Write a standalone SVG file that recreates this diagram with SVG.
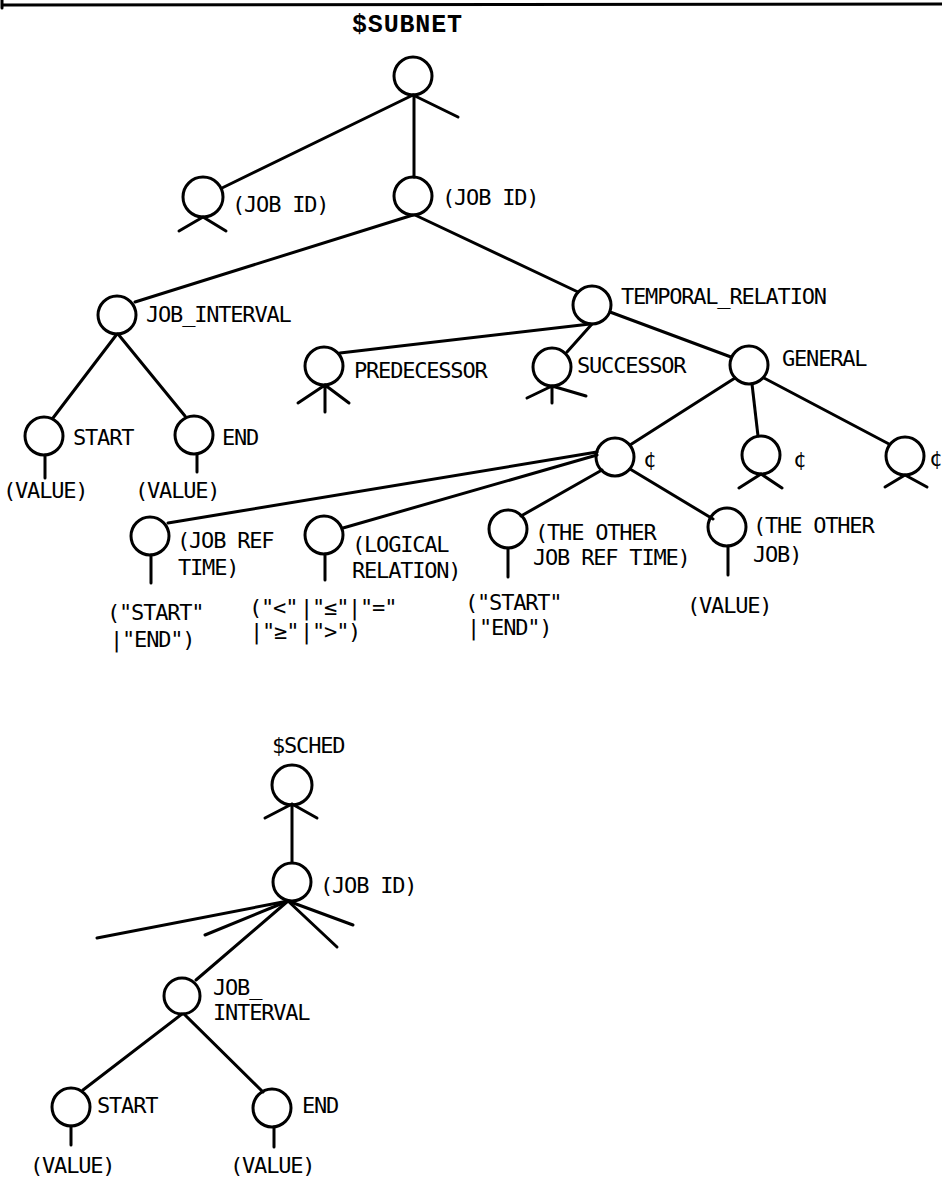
<svg xmlns="http://www.w3.org/2000/svg" width="942" height="1179" viewBox="0 0 942 1179">
<style>
.n{fill:none;stroke:#000;stroke-width:3}
.e line,.s{stroke:#000;stroke-width:3;stroke-linecap:round;fill:none}
text{font-family:"DejaVu Sans Mono","Liberation Mono",monospace;font-size:22px;letter-spacing:-1.2px;fill:#000}
.t{font-family:"Liberation Mono","DejaVu Sans Mono",monospace;font-weight:bold;font-size:25px;letter-spacing:0}
</style>
<rect width="942" height="1179" fill="#fff"/>
<path class="s" d="M2,0 L2,8 M2,5 L942,4"/>
<g class="e" id="connectors">
<line x1="413" y1="95" x2="222" y2="188"/>
<line x1="414" y1="95" x2="414" y2="177"/>
<line x1="413" y1="215" x2="135" y2="302"/>
<line x1="415" y1="215" x2="578" y2="292"/>
<line x1="117" y1="334" x2="53" y2="418"/>
<line x1="118" y1="334" x2="185" y2="416"/>
<line x1="340" y1="353" x2="590" y2="324"/>
<line x1="567" y1="352" x2="592" y2="324"/>
<line x1="610" y1="312" x2="731" y2="357"/>
<line x1="735" y1="378" x2="630" y2="445"/>
<line x1="752" y1="384" x2="758" y2="436"/>
<line x1="764" y1="378" x2="889" y2="444"/>
<line x1="597" y1="452" x2="168" y2="523"/>
<line x1="597" y1="455" x2="343" y2="528"/>
<line x1="602" y1="470" x2="521" y2="516"/>
<line x1="630" y1="469" x2="713" y2="519"/>
<line x1="292" y1="805" x2="292" y2="862"/>
<line x1="288" y1="901" x2="196" y2="980"/>
<line x1="288" y1="901" x2="97" y2="938"/>
<line x1="288" y1="901" x2="205" y2="935"/>
<line x1="288" y1="901" x2="353" y2="925"/>
<line x1="288" y1="901" x2="337" y2="947"/>
<line x1="182" y1="1014" x2="83" y2="1090"/>
<line x1="184" y1="1014" x2="263" y2="1092"/>
</g>
<g id="subnet">
<text class="t" x="352" y="32" textLength="110">$SUBNET</text>
<circle class="n" cx="413" cy="76" r="19"/>
<path class="s" d="M413,95 L458,117"/>
</g>
<g id="jobid1">
<circle class="n" cx="203" cy="197" r="20"/>
<path class="s" d="M203,217 L179,231 M203,217 L226,231"/>
<text x="232" y="212">(JOB ID)</text>
</g>
<g id="jobid2">
<circle class="n" cx="413" cy="196" r="19"/>
<text x="442" y="205">(JOB ID)</text>
</g>
<g id="job_interval">
<circle class="n" cx="117" cy="315" r="19"/>
<text x="146" y="322">JOB_INTERVAL</text>
</g>
<g id="start1">
<circle class="n" cx="44" cy="436" r="19"/>
<text x="73" y="445">START</text>
<path class="s" d="M45,455 L45,478"/>
<text x="3" y="498">(VALUE)</text>
</g>
<g id="end1">
<circle class="n" cx="194" cy="435" r="19"/>
<text x="222" y="445">END</text>
<path class="s" d="M197,454 L197,472"/>
<text x="135" y="498">(VALUE)</text>
</g>
<g id="temporal_relation">
<circle class="n" cx="592" cy="305" r="19"/>
<text x="621" y="304">TEMPORAL_RELATION</text>
</g>
<g id="predecessor">
<circle class="n" cx="324" cy="366" r="19"/>
<path class="s" d="M325,385 L298,403 M325,385 L349,403 M325,385 L325,412"/>
<text x="354" y="378">PREDECESSOR</text>
</g>
<g id="successor">
<circle class="n" cx="552" cy="367" r="19"/>
<path class="s" d="M552,386 L527,398 M552,386 L552,403 M552,386 L586,396"/>
<text x="577" y="373">SUCCESSOR</text>
</g>
<g id="general">
<circle class="n" cx="749" cy="365" r="19"/>
<text x="782" y="366">GENERAL</text>
</g>
<g id="cent1">
<circle class="n" cx="615" cy="457" r="19"/>
<text x="643" y="467">¢</text>
</g>
<g id="cent2">
<circle class="n" cx="761" cy="455" r="19"/>
<path class="s" d="M761,474 L739,488 M761,474 L782,488"/>
<text x="793" y="467">¢</text>
</g>
<g id="cent3">
<circle class="n" cx="905" cy="456" r="19"/>
<path class="s" d="M905,475 L885,487 M905,475 L927,487"/>
<text x="929" y="466">¢</text>
</g>
<g id="job_ref_time">
<circle class="n" cx="150" cy="536" r="19"/>
<path class="s" d="M151,555 L151,583"/>
<text x="177" y="548">(JOB REF</text>
<text x="178" y="575">TIME)</text>
<text x="107" y="620">("START"</text>
<text x="110" y="647">|"END")</text>
</g>
<g id="logical_relation">
<circle class="n" cx="324" cy="535" r="19"/>
<path class="s" d="M325,554 L325,580"/>
<text x="352" y="552">(LOGICAL</text>
<text x="352" y="578">RELATION)</text>
<text x="249" y="615">("&lt;"</text>
<text x="250" y="639">|"≥"</text>
<text x="300" y="615">|"≤"</text>
<text x="300" y="639">|"&gt;"</text>
<text x="348" y="615">|"="</text>
<text x="348" y="639">)</text>
</g>
<g id="other_job_ref_time">
<circle class="n" cx="508" cy="529" r="19"/>
<path class="s" d="M508,548 L508,577"/>
<text x="535" y="540">(THE OTHER</text>
<text x="533" y="565">JOB REF TIME)</text>
<text x="465" y="610">("START"</text>
<text x="467" y="635">|"END")</text>
</g>
<g id="other_job">
<circle class="n" cx="727" cy="527" r="19"/>
<path class="s" d="M728,546 L728,575"/>
<text x="753" y="533">(THE OTHER</text>
<text x="753" y="562">JOB)</text>
<text x="687" y="613">(VALUE)</text>
</g>
<g id="sched">
<text x="272" y="753">$SCHED</text>
<circle class="n" cx="292" cy="785" r="20"/>
<path class="s" d="M292,804 L265,818 M292,804 L317,818"/>
</g>
<g id="jobid3">
<circle class="n" cx="292" cy="882" r="19"/>
<text x="320" y="893">(JOB ID)</text>
</g>
<g id="job_interval2">
<circle class="n" cx="182" cy="996" r="18"/>
<text x="213" y="995">JOB_</text>
<text x="213" y="1020">INTERVAL</text>
</g>
<g id="start2">
<circle class="n" cx="71" cy="1107" r="19"/>
<text x="97" y="1113">START</text>
<path class="s" d="M71,1126 L71,1145"/>
<text x="30" y="1173">(VALUE)</text>
</g>
<g id="end2">
<circle class="n" cx="272" cy="1108" r="19"/>
<text x="302" y="1113">END</text>
<path class="s" d="M274,1127 L274,1147"/>
<text x="230" y="1173">(VALUE)</text>
</g>
</svg>
